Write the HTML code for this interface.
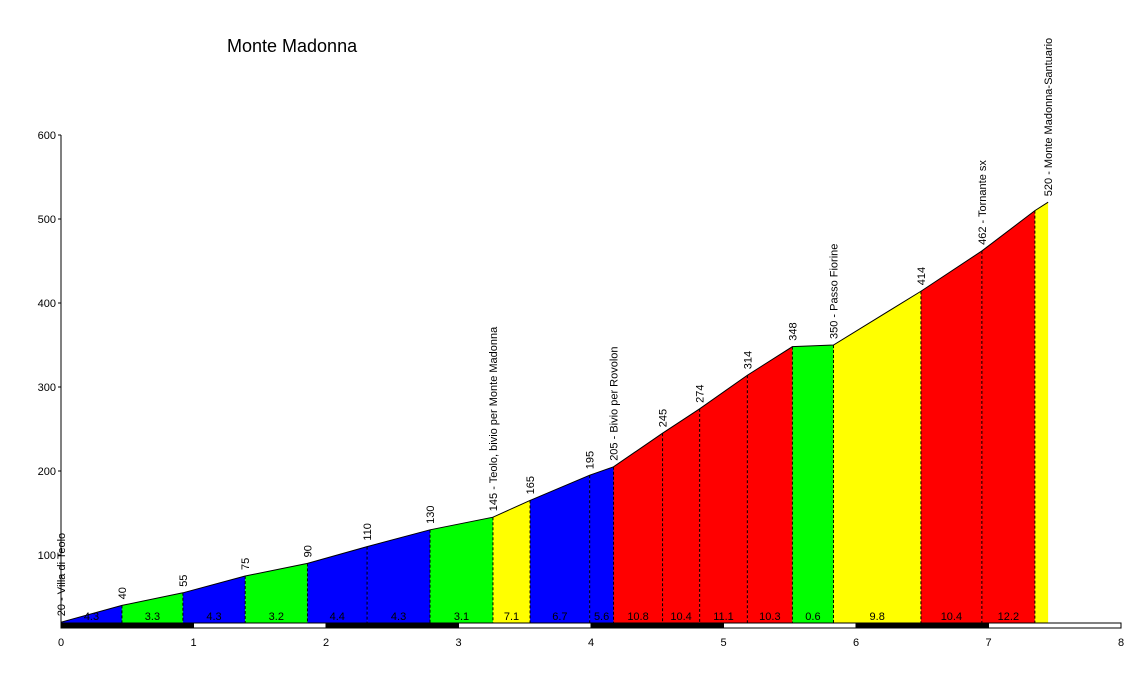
<!DOCTYPE html>
<html><head><meta charset="utf-8"><style>
body{margin:0;background:#fff}
svg{display:block;font-family:"Liberation Sans",sans-serif}
</style></head><body>
<svg id="chart" width="1137" height="673">
<text x="227" y="52" font-size="18">Monte Madonna</text>
<g id="plot"></g>
</svg>
<script>
const dists=[0,0.46,0.92,1.39,1.86,2.31,2.785,3.26,3.54,3.99,4.17,4.54,4.82,5.18,5.52,5.83,6.49,6.95,7.35,7.45];
const elevs=[20,40,55,75,90,110,130,145,165,195,205,245,274,314,348,350,414,462,510,520];
const pointLabels=["20 - Villa di Teolo","40","55","75","90","110","130","145 - Teolo, bivio per Monte Madonna","165","195","205 - Bivio per Rovolon","245","274","314","348","350 - Passo Fiorine","414","462 - Tornante sx","","520 - Monte Madonna-Santuario"];
const gradients=["4.3","3.3","4.3","3.2","4.4","4.3","3.1","7.1","6.7","5.6","10.8","10.4","11.1","10.3","0.6","9.8","10.4","12.2",""];
const segColors=["#0000ff","#00ff00","#0000ff","#00ff00","#0000ff","#0000ff","#00ff00","#ffff00","#0000ff","#0000ff","#ff0000","#ff0000","#ff0000","#ff0000","#00ff00","#ffff00","#ff0000","#ff0000","#ffff00"];
const yTicks=[100,200,300,400,500,600];
const xTicks=[0,1,2,3,4,5,6,7,8];
const NS="http://www.w3.org/2000/svg";
const X=d=>61+d*132.5;
const Y=v=>639-v*0.84;
const base=623;
const g=document.getElementById('plot');
function mk(t,a){const e=document.createElementNS(NS,t);for(const k in a)e.setAttribute(k,a[k]);g.appendChild(e);return e;}
for(let i=0;i<dists.length-1;i++){
 const p=mk('polygon',{points:`${X(dists[i])},${base} ${X(dists[i])},${Y(elevs[i])} ${X(dists[i+1])},${Y(elevs[i+1])} ${X(dists[i+1])},${base}`,fill:segColors[i]});
 
 
 if(gradients[i]){
  const t=mk('text',{x:(X(dists[i])+X(dists[i+1]))/2,y:620,'font-size':11,'text-anchor':'middle'});
  t.textContent=gradients[i];
  
  
 }
 if(i>0){
  const l=mk('line',{x1:X(dists[i]),x2:X(dists[i]),y1:Y(elevs[i]),y2:base,stroke:'#000','stroke-dasharray':'3,2','stroke-width':1});
  
  
 }
}
const pl=mk('polyline',{points:dists.map((d,i)=>X(d)+','+Y(elevs[i])).join(' '),fill:'none',stroke:'#000','stroke-width':1});


for(let i=0;i<dists.length;i++){
 if(!pointLabels[i])continue;
 const x=X(dists[i])+4,y=Y(elevs[i])-6;
 const t=mk('text',{x:x,y:y,'font-size':11,transform:`rotate(-90 ${x} ${y})`});
 t.textContent=pointLabels[i];
 
 
}
// distance bar
for(let k=0;k<8;k++){
 const r=mk('rect',{x:X(k),y:base,width:132.5,height:5,fill:k%2?'#fff':'#000',stroke:'#000','stroke-width':1});
 
 
}
const ax=mk('line',{x1:61,x2:61,y1:Y(600),y2:base,stroke:'#000'});


yTicks.forEach(v=>{
 const l=mk('line',{x1:58,x2:61,y1:Y(v),y2:Y(v),stroke:'#000'});
 
 
 const t=mk('text',{x:56,y:Y(v)+4,'font-size':11,'text-anchor':'end'});
 t.textContent=v;
 
 
});
xTicks.forEach(v=>{
 const t=mk('text',{x:X(v),y:646,'font-size':11,'text-anchor':'middle'});
 t.textContent=v;
 
 
});
</script>
</body></html>
